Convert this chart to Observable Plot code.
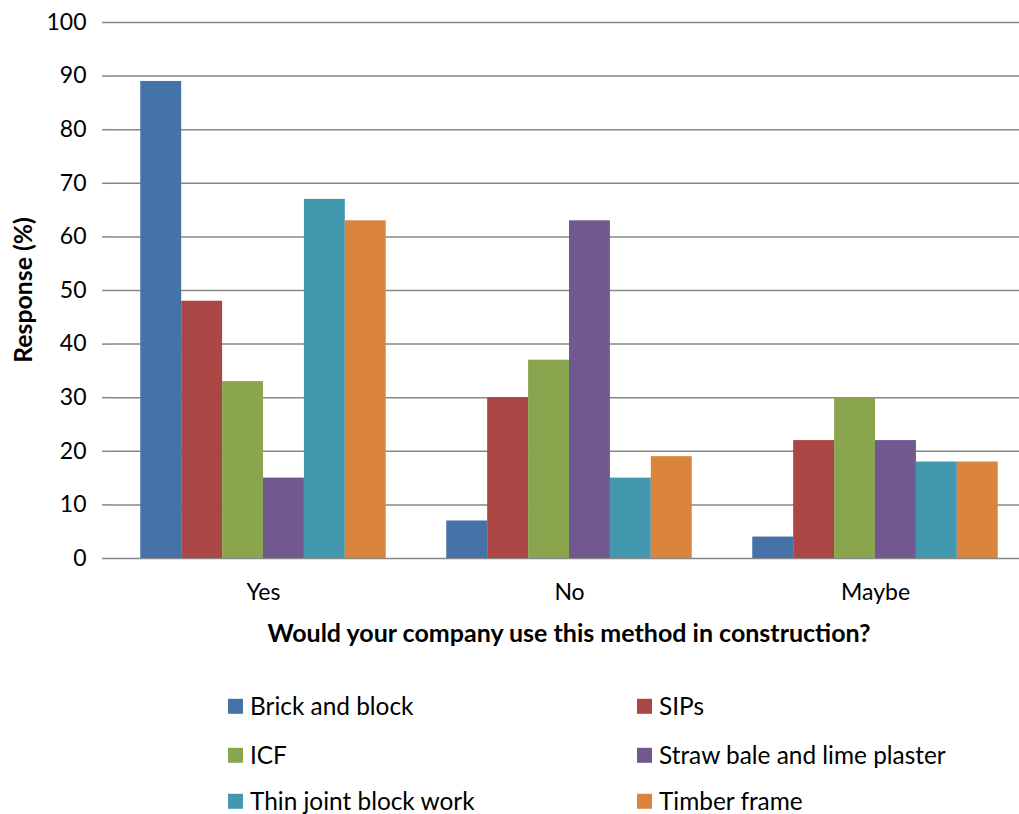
<!DOCTYPE html>
<html>
<head>
<meta charset="utf-8">
<script src="https://cdn.jsdelivr.net/npm/d3@7"></script>
<script src="https://cdn.jsdelivr.net/npm/@observablehq/plot@0.6"></script>
<style>
  html, body { margin: 0; padding: 0; background: #fff; overflow: hidden; }
  #wrap { position: relative; width: 1019px; height: 814px; overflow: hidden; font-family: Lato, "Open Sans", sans-serif; color: #000; }
  #chart svg { display: block; max-width: none !important; }
  .ytitle { position: absolute; left: 22px; top: 290px; transform: translate(-50%, -50%) rotate(-90deg); font-weight: bold; font-size: 24.8px; white-space: nowrap; }
  .xtitle { position: absolute; left: 569px; top: 617px; transform: translateX(-50%); font-weight: bold; font-size: 25px; white-space: nowrap; }
  .legend { position: absolute; left: 0; top: 0; width: 1019px; }
  .item { position: absolute; display: flex; align-items: center; font-size: 24.4px; line-height: 1; white-space: nowrap; transform: translateY(-50%); }
  .sw { width: 15px; height: 15px; margin-right: 7px; }
</style>
</head>
<body>
<div id="wrap">
  <div id="chart"></div>
  <div class="ytitle">Response (%)</div>
  <div class="xtitle">Would your company use this method in construction?</div>
  <div class="legend" id="legend"></div>
</div>
<script>
// Survey answers (x groups) and construction methods (series)
const answers = ["Yes", "No", "Maybe"];
const methods = ["Brick and block", "SIPs", "ICF", "Straw bale and lime plaster", "Thin joint block work", "Timber frame"];

// Response (%) per answer: Yes, No, Maybe
const brickAndBlock = [89, 7, 4];
const sips = [48, 30, 22];
const icf = [33, 37, 30];
const strawBale = [15, 63, 22];
const thinJoint = [67, 15, 18];
const timberFrame = [63, 19, 18];

const yTicks = [0, 10, 20, 30, 40, 50, 60, 70, 80, 90, 100];
const colors = ["#4572A7", "#AA4643", "#89A54E", "#71588F", "#4198AF", "#DB843D"];

const series = [brickAndBlock, sips, icf, strawBale, thinJoint, timberFrame];
const rows = [];
answers.forEach((answer, i) => {
  methods.forEach((method, j) => rows.push({answer, method, value: series[j][i]}));
});

// The plot area runs a little past the right edge of the page
const chart = Plot.plot({
  width: 1028,
  height: 650,
  marginLeft: 110,
  marginRight: 0,
  marginTop: 22,
  marginBottom: 92,
  style: {fontFamily: "Lato, 'Open Sans', sans-serif", fontSize: "23px", color: "#000", background: "#fff", overflow: "visible", maxWidth: "none"},
  fx: {domain: answers, padding: 0, round: false},
  x: {domain: methods, paddingInner: 0, paddingOuter: 0.74, round: false},
  y: {domain: [0, 100]},
  color: {domain: methods, range: colors},
  marks: [
    Plot.ruleY(yTicks, {stroke: "#878787", strokeWidth: 1.5}),
    Plot.barY(rows, {fx: "answer", x: "method", y: "value", fill: "method"}),
    Plot.axisY({ticks: yTicks, tickSize: 8, tickPadding: 16, stroke: "#878787", strokeWidth: 1.5, fill: "#000", label: null, line: true}),
    Plot.axisX({ticks: [], label: null}),
    Plot.axisFx({anchor: "bottom", tickSize: 0, tickPadding: 25, label: null, fill: "#000"})
  ]
});
document.getElementById("chart").appendChild(chart);

// Legend: two columns, three rows
const legend = document.getElementById("legend");
const colX = [228, 637];
const rowY = [706, 755, 801];
methods.forEach((m, i) => {
  const item = document.createElement("div");
  item.className = "item";
  item.style.left = colX[i % 2] + "px";
  item.style.top = rowY[Math.floor(i / 2)] + "px";
  const sw = document.createElement("span");
  sw.className = "sw";
  sw.style.background = colors[i];
  const label = document.createElement("span");
  label.textContent = m;
  item.appendChild(sw);
  item.appendChild(label);
  legend.appendChild(item);
});
</script>
</body>
</html>
